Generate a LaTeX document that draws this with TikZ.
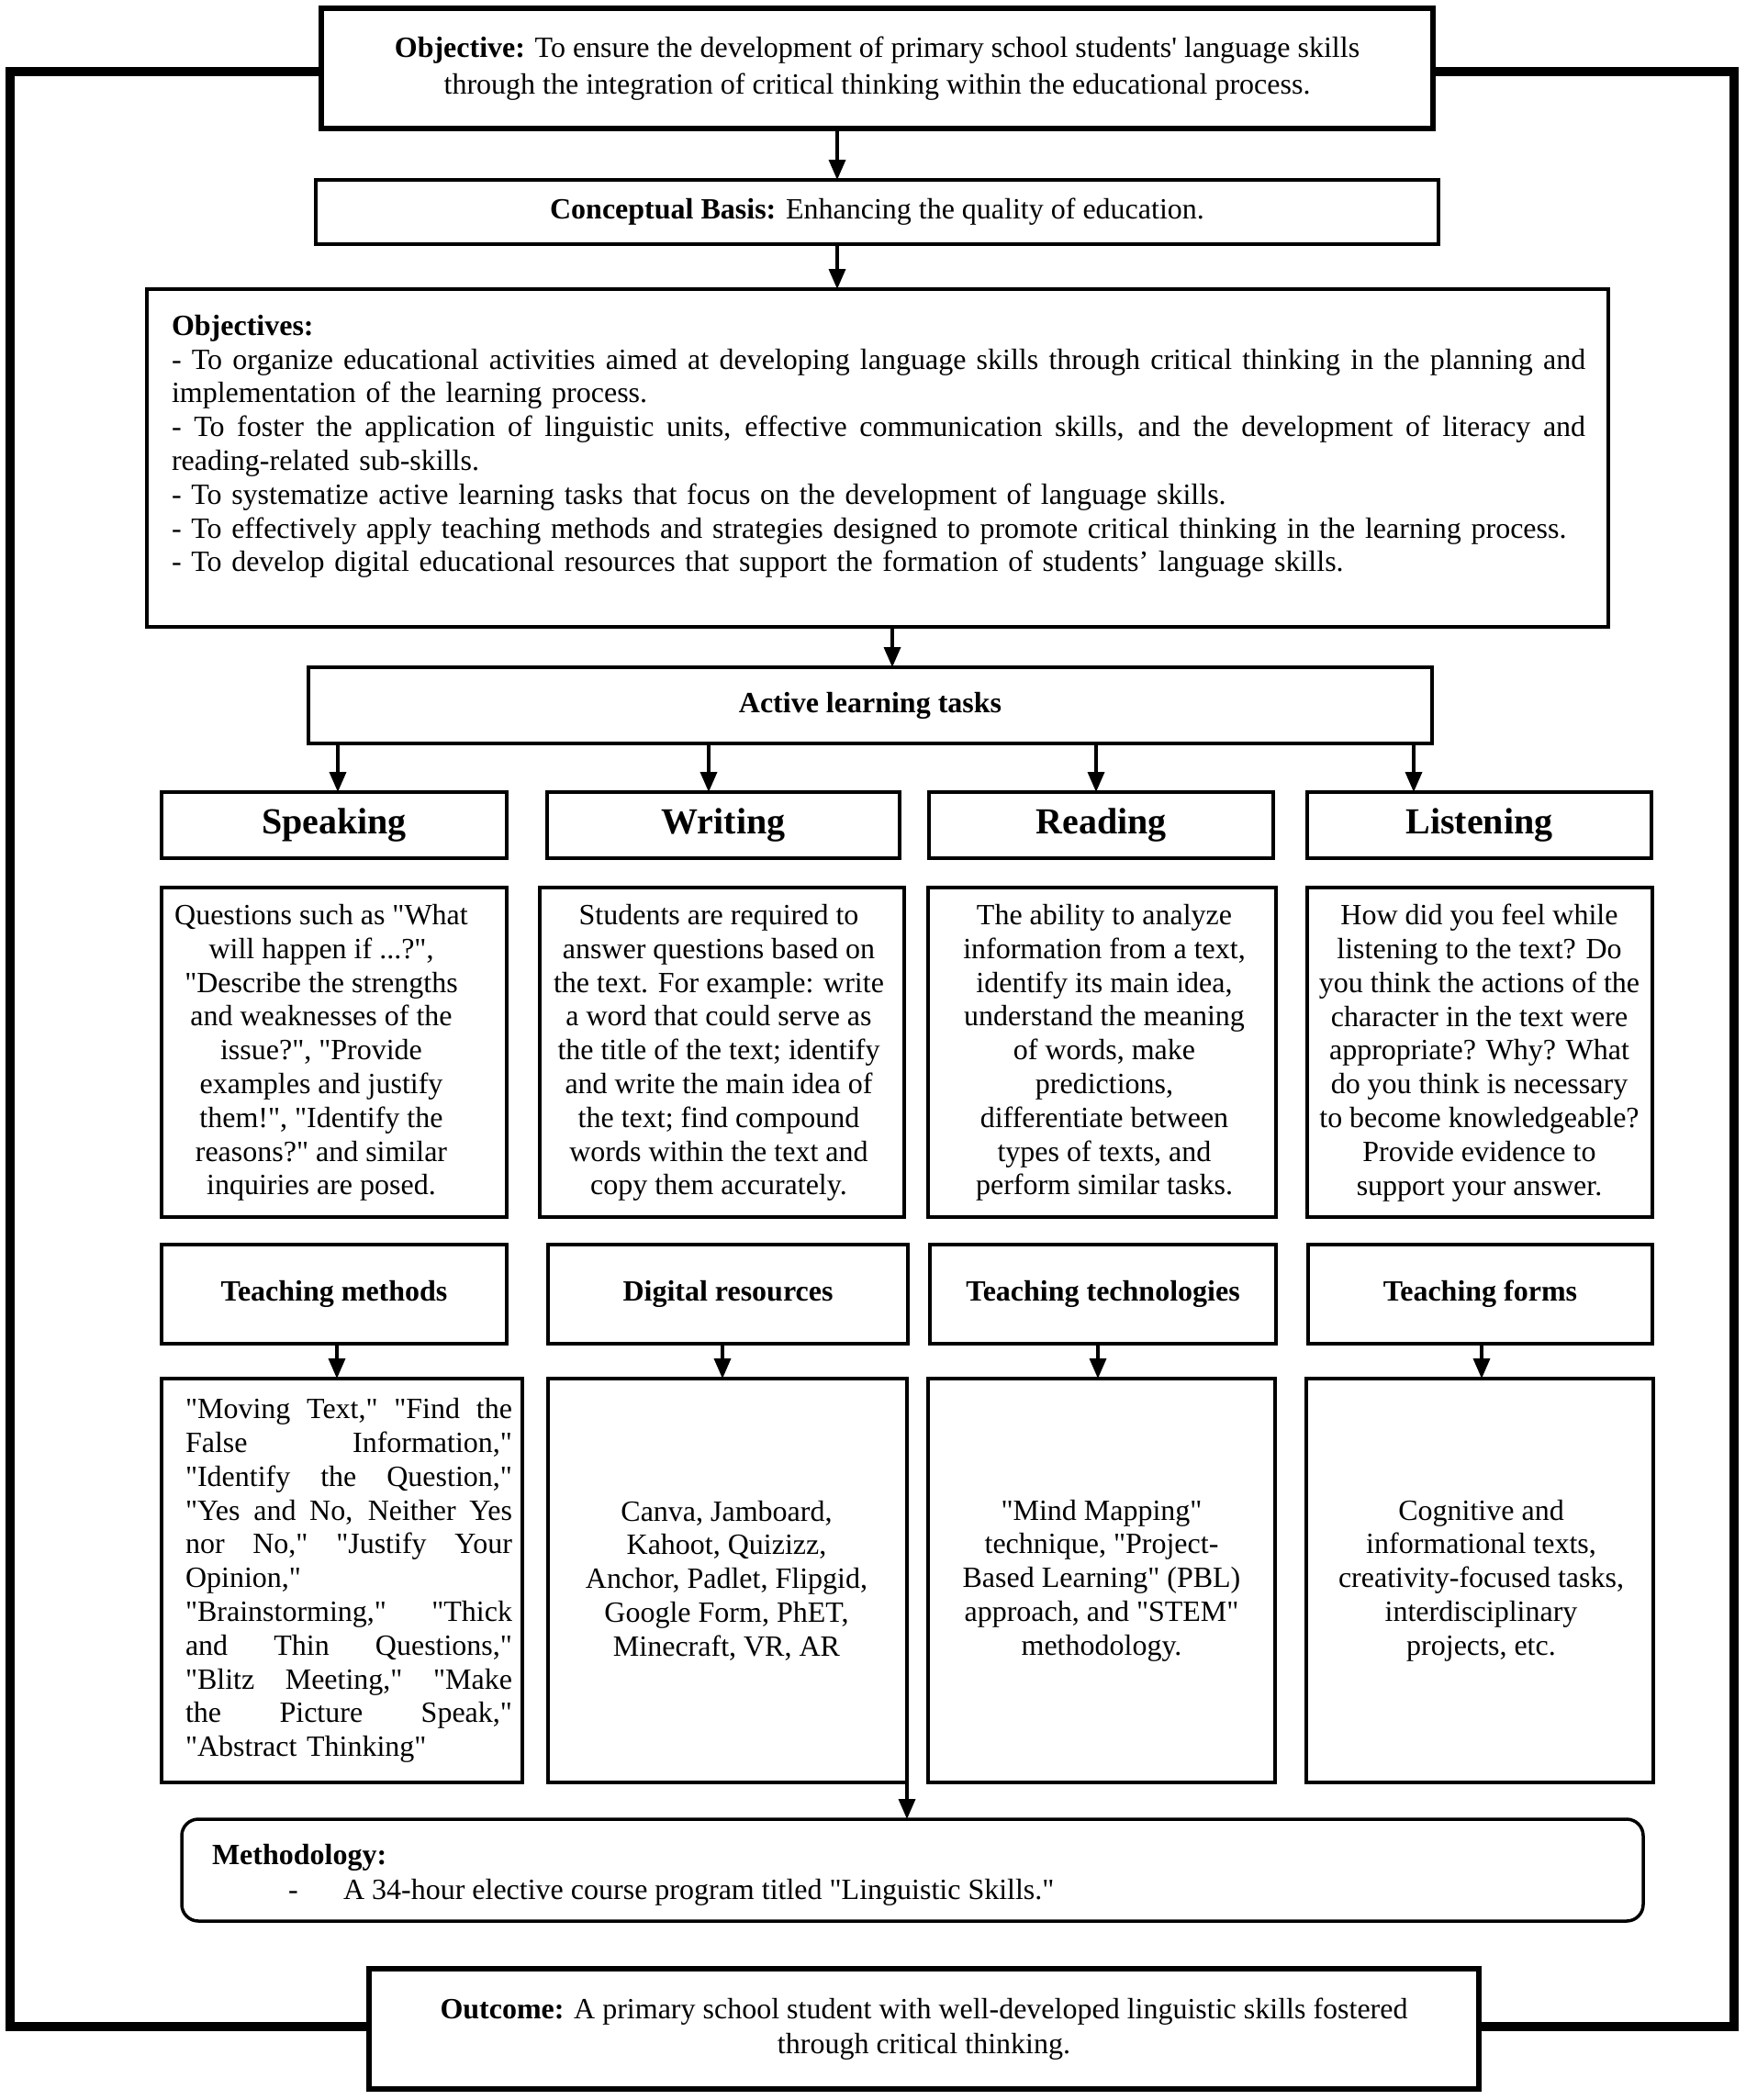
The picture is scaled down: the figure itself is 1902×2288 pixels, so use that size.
\documentclass[tikz,border=0pt]{standalone}
\usepackage{fontspec}
\setmainfont{Liberation Serif}
\newfontfamily\mainf{Liberation Serif}
\usetikzlibrary{arrows.meta}
\newcommand\FS[2]{\mainf\fontsize{#1}{#2}\selectfont}
\newcommand\jl[2][356pt]{\makebox[#1][s]{\spaceskip=0pt\xspaceskip=0pt #2}}
\begin{document}
\begin{tikzpicture}[x=1pt,y=-1pt,
  every node/.style={font=\FS{32}{36.8}, inner sep=0pt, outer sep=0pt},
  box/.style={draw, line width=3.5pt, fill=white},
  mainbox/.style={box, line width=5.5pt},
  arr/.style={line width=3.5pt, -{Triangle[length=22pt,width=18pt]}},
  frameline/.style={line width=10pt, line join=miter},
  hdr/.style={font=\FS{40}{46}\bfseries},
  bhdr/.style={font=\FS{32}{36.8}\bfseries},
  ctext/.style={align=center},
]
\useasboundingbox (0,0) rectangle (1902,2288);

% ---------- top ----------
\node[mainbox, minimum width=1211, minimum height=131, align=center,
      font=\FS{32}{40}] (obj) at (955.5,74.5)
  {\textbf{Objective:} To ensure the development of primary school students' language skills\\
   through the integration of critical thinking within the educational process.};
\node[box, minimum width=1223, minimum height=70] (concept) at (955.5,231)
  {\textbf{Conceptual Basis:} Enhancing the quality of education.};
\node[box, minimum width=1592, minimum height=368] (objs) at (956,499) {};
\node[anchor=north west, text width=1540, align=left] (objstext) at (187,343)
  {\textbf{Objectives:}\\
   \jl[1540pt]{- To organize educational activities aimed at developing language skills through critical thinking in the planning and}\\
   implementation of the learning process.\\
   \jl[1540pt]{- To foster the application of linguistic units, effective communication skills, and the development of literacy and}\\
   reading-related sub-skills.\\
   - To systematize active learning tasks that focus on the development of language skills.\\
   - To effectively apply teaching methods and strategies designed to promote critical thinking in the learning process.\\
   - To develop digital educational resources that support the formation of students’ language skills.};
\node[box, bhdr, minimum width=1224, minimum height=83] (active) at (948,768.5) {Active learning tasks};

% ---------- skill headers ----------
\node[box, hdr, minimum width=376, minimum height=72] (hS) at (364,899) {Speaking};
\node[box, hdr, minimum width=384, minimum height=72] (hW) at (788,899) {Writing};
\node[box, hdr, minimum width=375, minimum height=72] (hR) at (1199.5,899) {Reading};
\node[box, hdr, minimum width=375, minimum height=72] (hL) at (1611.5,899) {Listening};

% ---------- skill contents ----------
\node[box, minimum width=376, minimum height=359] (cS) at (364,1146.5) {};
\node[box, minimum width=397, minimum height=359] (cW) at (786.5,1146.5) {};
\node[box, minimum width=379, minimum height=359] (cR) at (1200.5,1146.5) {};
\node[box, minimum width=376, minimum height=359] (cL) at (1612,1146.5) {};
\node[ctext] (cStext) at (350,1147)
  {Questions such as "What\\ will happen if ...?",\\ "Describe the strengths\\ and weaknesses of the\\
   issue?", "Provide\\ examples and justify\\ them!", "Identify the\\ reasons?" and similar\\ inquiries are posed.};
\node[ctext] (cWtext) at (783,1147)
  {Students are required to\\ answer questions based on\\ the text. For example: write\\ a word that could serve as\\
   the title of the text; identify\\ and write the main idea of\\ the text; find compound\\ words within the text and\\ copy them accurately.};
\node[ctext] (cRtext) at (1203,1147)
  {The ability to analyze\\ information from a text,\\ identify its main idea,\\ understand the meaning\\
   of words, make\\ predictions,\\ differentiate between\\ types of texts, and\\ perform similar tasks.};
\node[ctext] (cLtext) at (1611.5,1147)
  {How did you feel while\\ listening to the text? Do\\ you think the actions of the\\ character in the text were\\
   appropriate? Why? What\\ do you think is necessary\\ to become knowledgeable?\\ Provide evidence to\\ support your answer.};

% ---------- teaching headers ----------
\node[box, bhdr, minimum width=376, minimum height=108] (tM) at (364,1410) {Teaching methods};
\node[box, bhdr, minimum width=392, minimum height=108] (tD) at (793,1410) {Digital resources};
\node[box, bhdr, minimum width=377, minimum height=108] (tT) at (1201.5,1410) {Teaching technologies};
\node[box, bhdr, minimum width=375, minimum height=108] (tF) at (1612.5,1410) {Teaching forms};

% ---------- teaching contents ----------
\node[box, minimum width=393, minimum height=440] (bM) at (372.5,1722) {};
\node[box, minimum width=391, minimum height=440] (bD) at (792.5,1722) {};
\node[box, minimum width=378, minimum height=440] (bT) at (1200,1722) {};
\node[box, minimum width=378, minimum height=440] (bF) at (1612,1722) {};
\node[text width=356, align=left] (bMtext) at (380,1722)
  {\jl{"Moving Text," "Find the}\\
   \jl{False Information,"}\\
   \jl{"Identify the Question,"}\\
   \jl{"Yes and No, Neither Yes}\\
   \jl{nor No," "Justify Your}\\
   Opinion,"\\
   \jl{"Brainstorming," "Thick}\\
   \jl{and Thin Questions,"}\\
   \jl{"Blitz Meeting," "Make}\\
   \jl{the Picture Speak,"}\\
   "Abstract Thinking"};
\node[ctext] (bDtext) at (791.5,1722)
  {Canva, Jamboard,\\ Kahoot, Quizizz,\\ Anchor, Padlet, Flipgid,\\ Google Form, PhET,\\ Minecraft, VR, AR};
\node[ctext] (bTtext) at (1200,1722)
  {"Mind Mapping"\\ technique, "Project-\\ Based Learning" (PBL)\\ approach, and "STEM"\\ methodology.};
\node[ctext] (bFtext) at (1613.5,1722)
  {Cognitive and\\ informational texts,\\ creativity-focused tasks,\\ interdisciplinary\\ projects, etc.};

% ---------- methodology & outcome ----------
\node[box, rounded corners=18pt, minimum width=1592, minimum height=111] (meth) at (994,2037.5) {};
\node[anchor=base west] (methA) at (231,2031) {\textbf{Methodology:}};
\node[anchor=base west] (methB) at (314,2069) {-};
\node[anchor=base west] (methC) at (374,2069) {A 34-hour elective course program titled "Linguistic Skills."};
\node[mainbox, minimum width=1209, minimum height=131, align=center,
      font=\FS{32}{38}] (out) at (1006.5,2210.5)
  {\textbf{Outcome:} A primary school student with well-developed linguistic skills fostered\\
   through critical thinking.};

% ---------- outer frame ----------
\coordinate (ftl) at (11,78);
\coordinate (ftr) at (1889,78);
\coordinate (fbl) at (11,2208);
\coordinate (fbr) at (1889,2208);
\draw[frameline] (obj.west |- ftl) -- (ftl) -- (fbl) -- (out.west |- fbl);
\draw[frameline] (obj.east |- ftr) -- (ftr) -- (fbr) -- (out.east |- fbr);

% ---------- arrows ----------
\coordinate (ax1) at (912,0);
\coordinate (ax3) at (972,0);
\coordinate (sx1) at (368,0);
\coordinate (sx2) at (772,0);
\coordinate (sx3) at (1194,0);
\coordinate (sx4) at (1540,0);
\coordinate (tx1) at (367,0);
\coordinate (tx2) at (787,0);
\coordinate (tx3) at (1196,0);
\coordinate (tx4) at (1614,0);
\draw[arr] (obj.south -| ax1) -- (concept.north -| ax1);
\draw[arr] (concept.south -| ax1) -- (objs.north -| ax1);
\draw[arr] (objs.south -| ax3) -- (active.north -| ax3);
\draw[arr] (active.south -| sx1) -- (hS.north -| sx1);
\draw[arr] (active.south -| sx2) -- (hW.north -| sx2);
\draw[arr] (active.south -| sx3) -- (hR.north -| sx3);
\draw[arr] (active.south -| sx4) -- (hL.north -| sx4);
\draw[arr] (tM.south -| tx1) -- (bM.north -| tx1);
\draw[arr] (tD.south -| tx2) -- (bD.north -| tx2);
\draw[arr] (tT.south -| tx3) -- (bT.north -| tx3);
\draw[arr] (tF.south -| tx4) -- (bF.north -| tx4);
\draw[arr] (bD.south east) -- (bD.south east |- meth.north);
\end{tikzpicture}
\end{document}
